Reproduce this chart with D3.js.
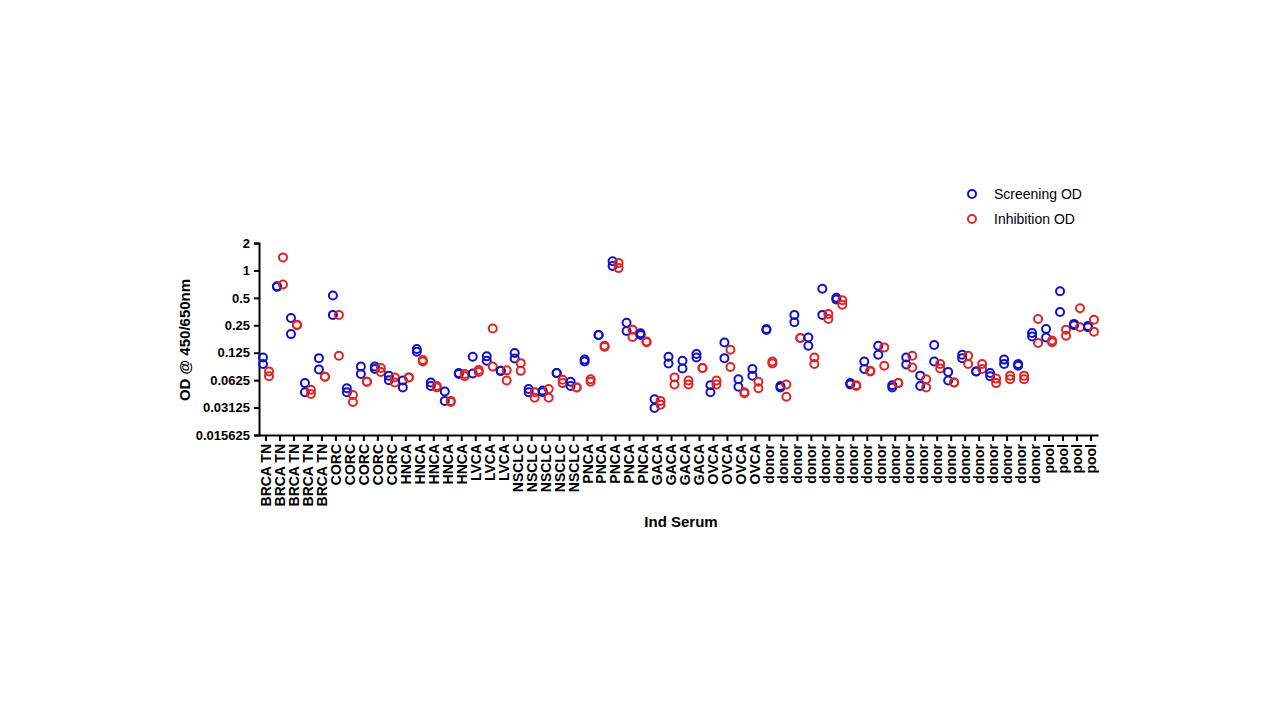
<!DOCTYPE html>
<html><head><meta charset="utf-8">
<script src="https://cdn.jsdelivr.net/npm/d3@7"></script>
<style>body{margin:0;background:#fff}text{font-family:"Liberation Sans",Arial,sans-serif}</style>
</head><body><svg id="c" width="1280" height="720"></svg>
<script>
const categories = ["BRCA TN","BRCA TN","BRCA TN","BRCA TN","BRCA TN","CORC","CORC","CORC","CORC","CORC","HNCA","HNCA","HNCA","HNCA","HNCA","LVCA","LVCA","LVCA","NSCLC","NSCLC","NSCLC","NSCLC","NSCLC","PNCA","PNCA","PNCA","PNCA","PNCA","GACA","GACA","GACA","GACA","OVCA","OVCA","OVCA","OVCA","donor","donor","donor","donor","donor","donor","donor","donor","donor","donor","donor","donor","donor","donor","donor","donor","donor","donor","donor","donor","pool","pool","pool","pool"];
const screeningOD = [[0.111,0.094],[0.67,0.66],[0.30,0.20],[0.058,0.046],[0.109,0.082],[0.53,0.325],[0.051,0.046],[0.088,0.073],[0.088,0.083],[0.070,0.0625],[0.062,0.052],[0.137,0.128],[0.059,0.054],[0.047,0.037],[0.075,0.073],[0.113,0.074],[0.114,0.102],[0.079,0.079],[0.124,0.108],[0.050,0.046],[0.048,0.046],[0.075,0.075],[0.060,0.054],[0.105,0.100],[0.196,0.196],[1.26,1.12],[0.266,0.216],[0.204,0.196],[0.0385,0.031],[0.113,0.095],[0.102,0.084],[0.121,0.111],[0.055,0.046],[0.162,0.109],[0.064,0.053],[0.083,0.070],[0.228,0.222],[0.054,0.052],[0.325,0.27],[0.184,0.149],[0.63,0.325],[0.50,0.48],[0.058,0.056],[0.100,0.083],[0.149,0.119],[0.055,0.052],[0.111,0.093],[0.070,0.054],[0.152,0.100],[0.077,0.062],[0.119,0.109],[0.078,0.078],[0.075,0.069],[0.105,0.094],[0.094,0.090],[0.206,0.188],[0.228,0.184],[0.59,0.35],[0.259,0.25],[0.245,0.238]];
const inhibitionOD = [[0.078,0.069],[1.39,0.70],[0.254,0.25],[0.049,0.044],[0.068,0.068],[0.325,0.116],[0.043,0.036],[0.060,0.060],[0.085,0.077],[0.067,0.059],[0.067,0.067],[0.104,0.100],[0.054,0.052],[0.037,0.036],[0.073,0.069],[0.081,0.077],[0.23,0.088],[0.080,0.062],[0.096,0.079],[0.046,0.040],[0.050,0.040],[0.063,0.058],[0.052,0.052],[0.064,0.060],[0.149,0.145],[1.21,1.06],[0.224,0.186],[0.166,0.163],[0.037,0.0335],[0.067,0.056],[0.062,0.056],[0.085,0.085],[0.062,0.056],[0.135,0.087],[0.046,0.045],[0.060,0.051],[0.100,0.095],[0.056,0.041],[0.181,0.181],[0.111,0.094],[0.333,0.293],[0.47,0.42],[0.055,0.054],[0.079,0.078],[0.143,0.090],[0.058,0.058],[0.116,0.086],[0.064,0.052],[0.094,0.084],[0.059,0.059],[0.116,0.094],[0.094,0.083],[0.065,0.058],[0.070,0.064],[0.070,0.064],[0.293,0.160],[0.170,0.163],[0.224,0.192],[0.385,0.238],[0.287,0.212]];
const yTicks = [2,1,0.5,0.25,0.125,0.0625,0.03125,0.015625];

const svg = d3.select("#c");
const blue = "#1010c8", red = "#e02424";
const x = d3.scaleBand().domain(d3.range(categories.length)).range([259,1098]);
const y = d3.scaleLog().base(2).domain([0.015625,2]).range([435,243]);

const ya = svg.append("g").attr("transform","translate(259,0)")
  .call(d3.axisLeft(y).tickValues(yTicks).tickFormat(d=>String(d)).tickSize(5));
ya.selectAll("text").attr("font-size",13).attr("font-weight","bold").attr("fill","#000").attr("dx",-1);
const xa = svg.append("g").attr("transform","translate(0,435)")
  .call(d3.axisBottom(x).tickFormat(i=>categories[i]).tickSize(6).tickSizeOuter(0));
xa.selectAll("text").attr("font-size",14).attr("font-weight","bold").attr("fill","#000")
  .attr("transform","rotate(-90)").attr("text-anchor","end").attr("x",-9).attr("y",0).attr("dy","0.35em");
svg.selectAll(".domain,.tick line").attr("stroke","#000").attr("stroke-width",2);

const g = svg.append("g");
categories.forEach((c,i)=>{
  const cx = x(i)+x.bandwidth()/2;
  screeningOD[i].forEach(v=>g.append("circle").attr("cx",cx-3).attr("cy",y(v)).attr("r",4)
    .attr("fill","none").attr("stroke",blue).attr("stroke-width",2));
  inhibitionOD[i].forEach(v=>g.append("circle").attr("cx",cx+3).attr("cy",y(v)).attr("r",4)
    .attr("fill","none").attr("stroke",red).attr("stroke-width",2));
});

svg.append("text").attr("transform","translate(190,340) rotate(-90)").attr("text-anchor","middle")
  .attr("font-size",15).attr("font-weight","bold").text("OD @ 450/650nm");
svg.append("text").attr("x",681).attr("y",527).attr("text-anchor","middle")
  .attr("font-size",15).attr("font-weight","bold").text("Ind Serum");

[["Screening OD",blue,194],["Inhibition OD",red,219]].forEach(([t,col,yy])=>{
  svg.append("circle").attr("cx",972).attr("cy",yy).attr("r",4).attr("fill","none").attr("stroke",col).attr("stroke-width",2);
  svg.append("text").attr("x",994).attr("y",yy+5).attr("font-size",14).text(t);
});
</script></body></html>
